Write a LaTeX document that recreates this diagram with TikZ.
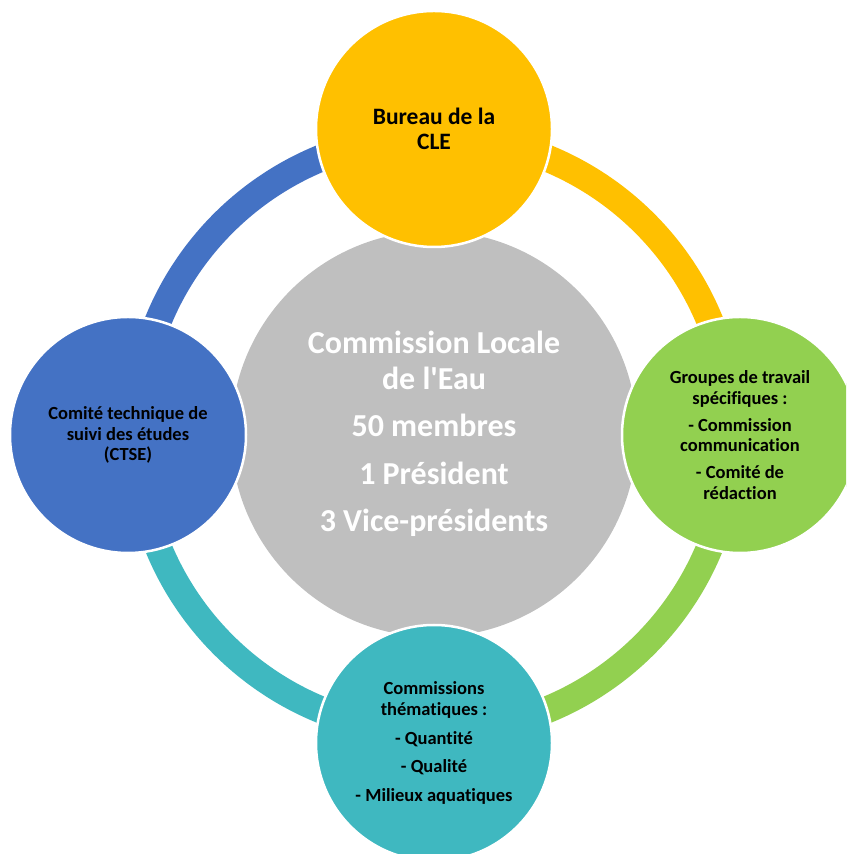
\documentclass[tikz,border=0pt]{standalone}
\usepackage{fontspec}
\setmainfont{Carlito}[Ligatures={TeXOff,NoCommon}]
\definecolor{cblue}{HTML}{4472C4}
\definecolor{cgold}{HTML}{FFC000}
\definecolor{cgreen}{HTML}{92D050}
\definecolor{cteal}{HTML}{3FB8C0}
\definecolor{cgray}{HTML}{BFBFBF}
\tikzset{
  ringarc/.style={line width=27pt},
  sat/.style={circle, draw=white, line width=2.5pt, minimum size=236pt, inner sep=0pt, align=center, text=black},
  hub/.style={circle, fill=cgray, minimum size=406pt, inner sep=0pt, align=center, text=white,
    font=\bfseries\fontsize{32}{35.5}\selectfont},
  smalltext/.style={font=\bfseries\fontsize{18.5}{20.5}\selectfont},
}
\begin{document}
\begin{tikzpicture}[x=1pt,y=1pt]
\useasboundingbox (0,0) rectangle (846,854);
\clip (0,0) rectangle (846,854);
\coordinate (C) at (434,420);
% ring arcs
\draw[ringarc, cblue]  ([shift={(180:298)}]C) arc[start angle=180, end angle=90,  radius=298];
\draw[ringarc, cgold]  ([shift={(90:298)}]C)  arc[start angle=90,  end angle=0,   radius=298];
\draw[ringarc, cgreen] ([shift={(0:298)}]C)   arc[start angle=0,   end angle=-90, radius=298];
\draw[ringarc, cteal]  ([shift={(-90:298)}]C) arc[start angle=-90, end angle=-180,radius=298];
% hub
\node[hub] (hub) at (C) {Commission Locale\\de l'Eau\\[12pt]50 membres\\[12pt]1 Président\\[12pt]3 Vice-présidents};
% satellites
\node[sat, fill=cgold, font=\bfseries\fontsize{23.5}{24.5}\selectfont] (top) at (434,725) {Bureau de la\\CLE};
\node[sat, fill=cgreen, smalltext] (right) at (740,419)
  {Groupes de travail\\spécifiques :\\[6.5pt]- Commission\\communication\\[6.5pt]- Comité de\\rédaction};
\node[sat, fill=cteal, smalltext] (bottom) at (434,111)
  {Commissions\\thématiques :\\[9pt]- Quantité\\[7.5pt]- Qualité\\[8.5pt]- Milieux aquatiques};
\node[sat, fill=cblue, smalltext] (left) at (128,419)
  {Comité technique de\\suivi des études\\(CTSE)};
\end{tikzpicture}
\end{document}
